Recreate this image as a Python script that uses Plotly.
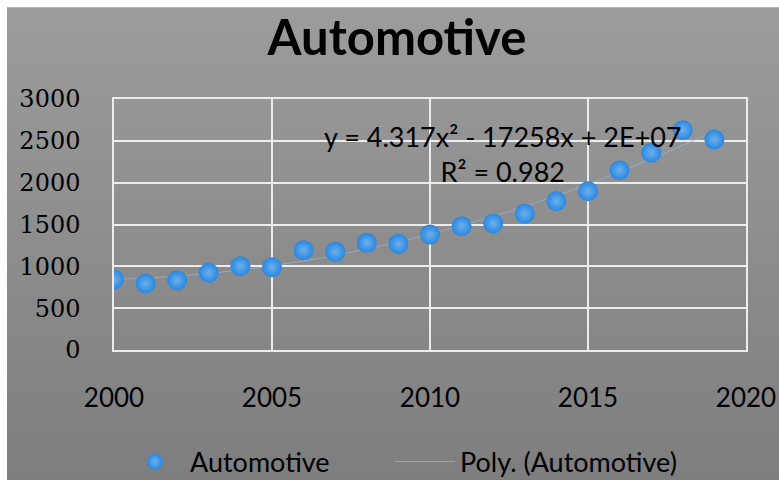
import numpy as np
import plotly.graph_objects as go

# Annual automotive figures
years = [2000, 2001, 2002, 2003, 2004, 2005, 2006, 2007, 2008, 2009,
         2010, 2011, 2012, 2013, 2014, 2015, 2016, 2017, 2018, 2019]
values = [843, 795, 831, 923, 1002, 990, 1193, 1173, 1281, 1270,
          1380, 1480, 1512, 1628, 1778, 1898, 2149, 2357, 2627, 2516]

x_ticks = [2000, 2005, 2010, 2015, 2020]
y_ticks = [0, 500, 1000, 1500, 2000, 2500, 3000]

series_name = "Automotive"
trend_name = "Poly. (Automotive)"
equation_text = "y = 4.317x² - 17258x + 2E+07<br>R² = 0.982"

W, H = 779, 480
L, R, T, B = 114, 33, 99, 129.5

# second-order polynomial trendline fitted to the series
coef = np.polyfit(np.array(years, dtype=float), np.array(values, dtype=float), 2)
trend_x = np.linspace(years[0], years[-1], 120)
trend_y = np.polyval(coef, trend_x)

fig = go.Figure()

fig.add_trace(go.Scatter(
    x=trend_x, y=trend_y, mode="lines", name=trend_name, legend="legend2",
    line=dict(color="rgba(150,180,210,0.75)", width=1),
))
fig.add_trace(go.Scatter(
    x=years, y=values, mode="markers", name=series_name, legend="legend",
    marker=dict(size=20, color="#2787e2",
                gradient=dict(type="radial", color="#6eb0ea"),
                line=dict(width=0)),
))

# vertical grey gradient behind the whole chart
pw, ph = W - L - R, H - T - B
def px_to_paper_x(px):
    return (px - L) / pw
def px_to_paper_y(py):
    return (H - B - py) / ph

top_c = np.array([0x9c, 0x9c, 0x9c])
bot_c = np.array([0x7e, 0x7e, 0x7e])
n_bands = 80
y0_px, y1_px = 7, H
shapes = []
for i in range(n_bands):
    a = y0_px + (y1_px - y0_px) * i / n_bands
    b = y0_px + (y1_px - y0_px) * (i + 1) / n_bands + 0.8
    t = (i + 0.5) / n_bands
    c = (top_c + (bot_c - top_c) * t).round().astype(int)
    shapes.append(dict(
        type="rect", xref="paper", yref="paper", layer="below",
        x0=px_to_paper_x(7), x1=px_to_paper_x(W + 2),
        y0=px_to_paper_y(min(b, H + 2)), y1=px_to_paper_y(a),
        fillcolor=f"rgb({c[0]},{c[1]},{c[2]})", line=dict(width=0),
    ))

legend_common = dict(orientation="h", xref="container", yref="container",
                     xanchor="left", y=1 - 462 / H, yanchor="middle",
                     font=dict(family="Lato", size=27, color="#000000"),
                     bgcolor="rgba(0,0,0,0)", itemwidth=60)

fig.update_layout(
    width=W, height=H,
    margin=dict(l=L, r=R, t=T, b=B, pad=0, autoexpand=False),
    paper_bgcolor="white",
    plot_bgcolor="rgba(0,0,0,0)",
    shapes=shapes,
    title=dict(text="<b>Automotive</b>", x=397 / W, xanchor="center",
               y=1 - 38 / H, yanchor="middle",
               font=dict(family="Lato", size=49, color="#000000")),
    showlegend=True,
    legend=dict(x=120 / W, **legend_common),
    legend2=dict(x=390 / W, **legend_common),
    annotations=[dict(
        text=equation_text, x=px_to_paper_x(503), y=px_to_paper_y(154),
        xref="paper", yref="paper", xanchor="center", yanchor="middle",
        showarrow=False, align="center",
        font=dict(family="Lato", size=27, color="#000000"),
    )],
)

fig.update_xaxes(
    range=[2000, 2020], tickvals=x_ticks, ticktext=[str(v) for v in x_ticks],
    automargin=False,
    showgrid=True, gridcolor="#ececec", gridwidth=1.5,
    zeroline=False, showline=True, linecolor="#ececec", linewidth=1.5, mirror=True,
    ticks="outside", ticklen=24, tickcolor="rgba(0,0,0,0)",
    tickfont=dict(family="Lato", size=26, color="#000000"),
)
fig.update_yaxes(
    range=[0, 3000], tickvals=y_ticks, ticktext=[str(v) for v in y_ticks],
    automargin=False,
    showgrid=True, gridcolor="#ececec", gridwidth=1.5,
    zeroline=False, showline=True, linecolor="#ececec", linewidth=1.5, mirror=True,
    ticks="outside", ticklen=27, tickcolor="rgba(0,0,0,0)",
    tickfont=dict(family="DejaVu Serif", size=24, color="#000000"),
)

fig.write_html("out.html")
